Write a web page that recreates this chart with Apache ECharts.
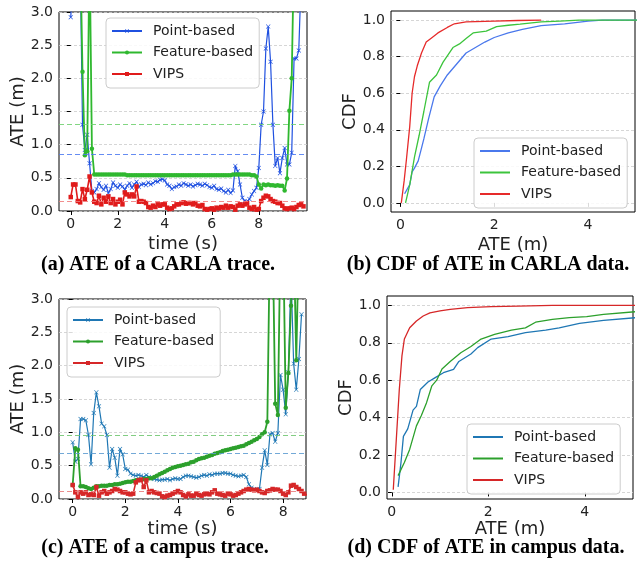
<!DOCTYPE html>
<html><head><meta charset="utf-8">
<script src="https://cdn.jsdelivr.net/npm/echarts@6/dist/echarts.min.js"></script>
<style>html,body{margin:0;padding:0;background:#fff}#c{width:637px;height:573px}</style>
</head><body><div id="c"></div>
<script>
const seriesNames = ['Point-based', 'Feature-based', 'VIPS'];
const captions = ['(a) ATE of a CARLA trace.', '(b) CDF of ATE in CARLA data.', '(c) ATE of a campus trace.', '(d) CDF of ATE in campus data.'];

// tick labels
const xTicksTimeA = [0, 2, 4, 6, 8];
const xTicksTimeC = [0, 2, 4, 6, 8];
const yTicksATE = [0, 0.5, 1, 1.5, 2, 2.5, 3];
const xTicksCDF = [0, 2, 4];
const yTicksCDF = [0, 0.2, 0.4, 0.6, 0.8, 1.0];

// (a) CARLA trace
const timeA = [0,0.1,0.2,0.3,0.4,0.5,0.6,0.7,0.8,0.9,1,1.1,1.2,1.3,1.4,1.5,1.6,1.7,1.8,1.9,2,2.1,2.2,2.3,2.4,2.5,2.6,2.7,2.8,2.9,3,3.1,3.2,3.3,3.4,3.5,3.6,3.7,3.8,3.9,4,4.1,4.2,4.3,4.4,4.5,4.6,4.7,4.8,4.9,5,5.1,5.2,5.3,5.4,5.5,5.6,5.7,5.8,5.9,6,6.1,6.2,6.3,6.4,6.5,6.6,6.7,6.8,6.9,7,7.1,7.2,7.3,7.4,7.5,7.6,7.7,7.8,7.9,8,8.1,8.2,8.3,8.4,8.5,8.6,8.7,8.8,8.9,9,9.1,9.2,9.3,9.4,9.5,9.6,9.7,9.8,9.9];
const pointA = [2.92,3.6,4.0,4.0,3.8,1.30,0.92,1.15,0.72,0.30,
 0.28,0.33,0.42,0.36,0.32,0.38,0.27,0.33,0.43,0.38,
 0.35,0.40,0.37,0.32,0.38,0.42,0.35,0.40,0.44,0.36,
 0.40,0.41,0.39,0.43,0.40,0.42,0.45,0.44,0.47,0.48,
 0.46,0.40,0.38,0.33,0.36,0.37,0.40,0.38,0.42,0.40,
 0.38,0.40,0.37,0.39,0.41,0.40,0.38,0.41,0.39,0.36,
 0.35,0.38,0.33,0.32,0.34,0.30,0.28,0.32,0.27,0.31,
 0.68,0.60,0.40,0.20,0.15,0.14,0.18,0.25,0.30,0.35,
 0.65,1.30,1.50,2.45,2.78,2.25,1.30,0.68,0.80,0.57,
 0.80,0.95,0.70,0.70,0.88,2.30,2.30,2.42,3.50,4.00];
const featureA = [4,4,4,4,4,2.10,0.84,0.90,4,0.94,
 0.55,0.55,0.55,0.55,0.55,0.55,0.55,0.55,0.55,0.55,
 0.55,0.55,0.55,0.55,0.54,0.54,0.54,0.54,0.54,0.54,
 0.54,0.54,0.54,0.54,0.54,0.54,0.54,0.54,0.54,0.54,
 0.54,0.54,0.54,0.54,0.54,0.54,0.54,0.54,0.54,0.54,
 0.54,0.54,0.54,0.54,0.54,0.54,0.54,0.54,0.54,0.54,
 0.54,0.54,0.54,0.54,0.54,0.54,0.54,0.54,0.54,0.55,
 0.55,0.55,0.55,0.55,0.55,0.55,0.55,0.54,0.54,0.52,
 0.40,0.34,0.40,0.39,0.40,0.39,0.39,0.38,0.39,0.38,
 0.38,0.31,0.49,1.51,2.00,4,4,4,4,4];
const vipsA = [0.21,0.40,0.40,0.15,0.13,0.33,0.18,0.32,0.52,0.28,
 0.14,0.12,0.23,0.10,0.20,0.14,0.22,0.12,0.18,0.10,
 0.14,0.17,0.10,0.28,0.25,0.22,0.25,0.22,0.37,0.14,
 0.15,0.14,0.12,0.06,0.05,0.08,0.06,0.10,0.08,0.10,
 0.10,0.05,0.03,0.04,0.07,0.10,0.10,0.12,0.13,0.11,
 0.12,0.12,0.10,0.12,0.08,0.07,0.09,0.03,0.02,0.03,
 0.04,0.02,0.05,0.04,0.06,0.05,0.08,0.05,0.07,0.06,
 0.02,0.08,0.10,0.08,0.10,0.12,0.05,0.03,0.06,0.02,
 0.03,0.15,0.20,0.23,0.22,0.18,0.15,0.14,0.12,0.12,
 0.08,0.04,0.03,0.04,0.05,0.03,0.06,0.09,0.10,0.07];
const meanA = [0.85, 1.31, 0.14];

// (c) campus trace
const timeC = [0,0.1,0.2,0.3,0.4,0.5,0.6,0.7,0.8,0.9,1,1.1,1.2,1.3,1.4,1.5,1.6,1.7,1.8,1.9,2,2.1,2.2,2.3,2.4,2.5,2.6,2.7,2.8,2.9,3,3.1,3.2,3.3,3.4,3.5,3.6,3.7,3.8,3.9,4,4.1,4.2,4.3,4.4,4.5,4.6,4.7,4.8,4.9,5,5.1,5.2,5.3,5.4,5.5,5.6,5.7,5.8,5.9,6,6.1,6.2,6.3,6.4,6.5,6.6,6.7,6.8,6.9,7,7.1,7.2,7.3,7.4,7.5,7.6,7.7,7.8,7.9,8,8.1,8.2,8.3,8.4,8.5,8.6,8.7,8.8,8.9];
const pointC = [0.85,0.56,0.60,1.20,1.20,1.18,0.96,0.52,1.29,1.60,
 1.39,1.13,1.09,0.96,0.47,0.75,0.62,0.35,0.75,0.67,
 0.45,0.44,0.38,0.36,0.35,0.36,0.35,0.33,0.36,0.33,
 0.31,0.30,0.29,0.28,0.29,0.29,0.30,0.28,0.30,0.31,
 0.30,0.30,0.33,0.35,0.35,0.34,0.33,0.32,0.33,0.35,
 0.36,0.35,0.37,0.36,0.38,0.38,0.38,0.39,0.39,0.38,
 0.38,0.36,0.35,0.34,0.35,0.36,0.33,0.22,0.17,0.15,
 0.14,0.15,0.47,0.73,0.51,0.97,0.99,0.86,0.99,1.86,
 1.64,1.27,1.90,3.40,2.03,1.64,2.10,2.77];
const featureC = [0.21,0.76,0.74,0.19,0.19,0.18,0.16,0.15,0.17,0.19,
 0.19,0.20,0.20,0.20,0.21,0.21,0.22,0.22,0.23,0.24,
 0.25,0.26,0.26,0.27,0.28,0.29,0.29,0.30,0.30,0.31,
 0.31,0.33,0.35,0.37,0.39,0.41,0.43,0.45,0.47,0.48,
 0.49,0.50,0.51,0.52,0.53,0.55,0.56,0.58,0.60,0.61,
 0.62,0.635,0.65,0.66,0.68,0.69,0.70,0.72,0.73,0.74,
 0.75,0.76,0.77,0.78,0.79,0.80,0.82,0.84,0.86,0.88,
 0.90,0.93,0.97,1.00,1.16,4,4,1.43,1.26,4,
 4,1.37,1.89,2.90,4,2.08,4];
const vipsC = [0.21,0.10,0.03,0.10,0.08,0.10,0.06,0.07,0.06,0.18,
 0.05,0.10,0.12,0.08,0.10,0.12,0.15,0.14,0.12,0.10,
 0.10,0.08,0.07,0.08,0.25,0.28,0.29,0.18,0.28,0.10,
 0.12,0.10,0.09,0.08,0.04,0.03,0.05,0.06,0.08,0.10,
 0.12,0.10,0.06,0.04,0.07,0.05,0.05,0.08,0.06,0.05,
 0.07,0.08,0.07,0.10,0.13,0.08,0.07,0.06,0.05,0.08,
 0.07,0.05,0.06,0.08,0.10,0.12,0.14,0.15,0.14,0.13,
 0.14,0.12,0.10,0.09,0.12,0.13,0.15,0.14,0.14,0.12,
 0.08,0.06,0.10,0.20,0.21,0.18,0.15,0.12,0.08,0.06];
const meanC = [0.68, 0.95, 0.12];

// (b) CDF CARLA
const cdfBPointX = [0.09,0.2,0.25,0.3,0.38,0.45,0.5,0.6,0.72,0.85,1.0,1.2,1.4,1.6,1.8,2.0,2.3,2.6,3.0,3.5,4.0,4.3,5.2];
const cdfBPointY = [0.05,0.1,0.17,0.19,0.23,0.3,0.35,0.46,0.58,0.64,0.7,0.76,0.82,0.85,0.88,0.905,0.93,0.95,0.97,0.98,0.995,1.0,1.0];
const cdfBFeatX = [0.11,0.2,0.3,0.4,0.5,0.62,0.77,0.91,1.12,1.26,1.4,1.55,1.83,2.05,2.3,2.55,3.0,3.4,3.8,5.2];
const cdfBFeatY = [0.0,0.1,0.25,0.37,0.5,0.66,0.7,0.77,0.85,0.87,0.9,0.93,0.94,0.965,0.972,0.978,0.99,0.995,1.0,1.0];
const cdfBVipsX = [0.02,0.08,0.13,0.2,0.25,0.3,0.36,0.45,0.55,0.65,0.8,1.0,1.15,1.4,2.0,2.5,3.0];
const cdfBVipsY = [0.0,0.12,0.24,0.42,0.6,0.69,0.75,0.82,0.88,0.9,0.93,0.96,0.98,0.99,0.995,0.998,1.0];

// (d) CDF campus
const cdfDPointX = [0.13,0.19,0.24,0.33,0.44,0.51,0.59,0.75,0.9,1.07,1.28,1.39,1.64,1.78,2.06,2.41,2.77,3.19,3.47,3.89,4.39,5.1];
const cdfDPointY = [0.03,0.16,0.30,0.34,0.44,0.46,0.55,0.59,0.614,0.64,0.658,0.70,0.74,0.774,0.82,0.833,0.854,0.868,0.88,0.904,0.92,0.935];
const cdfDFeatX = [0.13,0.26,0.37,0.51,0.61,0.72,0.83,0.93,1.04,1.21,1.43,1.64,1.85,2.13,2.48,2.77,2.98,3.33,3.68,4.04,4.39,5.1];
const cdfDFeatY = [0.09,0.16,0.23,0.356,0.41,0.48,0.57,0.6,0.66,0.70,0.747,0.78,0.82,0.845,0.868,0.88,0.91,0.925,0.934,0.94,0.952,0.967];
const cdfDVipsX = [0.03,0.085,0.155,0.21,0.26,0.37,0.51,0.65,0.79,1.0,1.21,1.57,2.06,2.62,3.33,5.1];
const cdfDVipsY = [0.014,0.25,0.55,0.73,0.82,0.88,0.916,0.943,0.96,0.97,0.979,0.988,0.993,0.996,1.0,1.0];

// styles
const colA = ['#1f50e0', '#2fb82f', '#e01b1b'];
const colB = ['#4a78ec', '#3cc43c', '#e62a2a'];
const colC = ['#1f77b4', '#2ca02c', '#d62728'];
const meanColA = ['#4a78f0', '#6ccf6c', '#f07a7a'];
const meanColC = ['#5a9ad0', '#6cc46c', '#e87a7a'];
const FONT = 'DejaVu Sans';
const xSym = 'path://M0,1L1,0L5,4L9,0L10,1L6,5L10,9L9,10L5,6L1,10L0,9L4,5Z';
const syms = [xSym, 'circle', 'rect'];
const symSizes = [4.5, 4.5, 4.5];
const lineW = [1.2, 1.8, 1.6];

function zip(xs, ys) { return ys.map((v, i) => [xs[i], v]); }
function tag(name, k) { return name + '|' + k; }

const grids = [
  {left: 59, top: 12, width: 248, height: 199},
  {left: 391, top: 11, width: 244, height: 201},
  {left: 59, top: 299, width: 247, height: 200},
  {left: 387, top: 296, width: 246, height: 203}
].map(g => Object.assign({show: true, borderColor: '#000', borderWidth: 1, containLabel: false}, g));

function xAxis(i, min, max, ticks, name, gap) {
  return {
    gridIndex: i, type: 'value', min: min, max: max,
    axisLine: {show: false},
    axisTick: {show: true, length: 4, customValues: ticks, lineStyle: {color: '#000', width: 1}},
    axisLabel: {customValues: ticks, fontSize: 14, color: '#222', margin: 6, fontFamily: FONT},
    splitLine: {show: false},
    name: name, nameLocation: 'middle', nameGap: gap,
    nameTextStyle: {fontSize: 18, color: '#222', fontFamily: FONT}
  };
}
function yAxis(i, min, max, ticks, name, gap) {
  return {
    gridIndex: i, type: 'value', min: min, max: max,
    axisLine: {show: false},
    axisTick: {show: true, length: 4, customValues: ticks, lineStyle: {color: '#000', width: 1}},
    axisLabel: {customValues: ticks, fontSize: 14, color: '#222', margin: 6, fontFamily: FONT, formatter: v => Number(v).toFixed(1)},
    splitLine: {show: true, lineStyle: {color: '#cccccc', type: [3, 2], width: 0.8}},
    name: name, nameLocation: 'middle', nameGap: gap, nameRotate: 90,
    nameTextStyle: {fontSize: 18, color: '#222', fontFamily: FONT}
  };
}

const series = [];
function traceSeries(k, gi, times, arrs, cols, means, meanCols) {
  arrs.forEach((arr, j) => {
    series.push({
      name: tag(seriesNames[j], k), type: 'line', xAxisIndex: gi, yAxisIndex: gi,
      data: zip(times, arr), clip: true,
      symbol: syms[j], symbolSize: symSizes[j], showSymbol: true, showAllSymbol: true,
      lineStyle: {width: lineW[j], color: cols[j]}, itemStyle: {color: cols[j]},
      z: 2 + j,
      markLine: {silent: true, symbol: ['none', 'none'], label: {show: false}, animation: false,
        lineStyle: {type: [5, 3], width: 1.2, color: meanCols[j], opacity: 0.85},
        data: [{yAxis: means[j]}]}
    });
  });
}
function cdfSeries(k, gi, pairs, cols) {
  pairs.forEach((p, j) => {
    series.push({
      name: tag(seriesNames[j], k), type: 'line', xAxisIndex: gi, yAxisIndex: gi,
      data: zip(p[0], p[1]), clip: true, symbol: 'none', showSymbol: false,
      lineStyle: {width: 1.3, color: cols[j]}, itemStyle: {color: cols[j]}, z: 2 + j
    });
  });
}
traceSeries('a', 0, timeA, [pointA, featureA, vipsA], colA, meanA, meanColA);
cdfSeries('b', 1, [[cdfBPointX, cdfBPointY], [cdfBFeatX, cdfBFeatY], [cdfBVipsX, cdfBVipsY]], colB);
traceSeries('c', 2, timeC, [pointC, featureC, vipsC], colC, meanC, meanColC);
cdfSeries('d', 3, [[cdfDPointX, cdfDPointY], [cdfDFeatX, cdfDFeatY], [cdfDVipsX, cdfDVipsY]], colC);

function legend(k, left, top, lineOnly) {
  const l = {
    data: seriesNames.map(n => {
      const d = {name: tag(n, k)};
      if (lineOnly) d.itemStyle = {opacity: 0};
      return d;
    }),
    left: left, top: top, orient: 'vertical',
    itemWidth: 30, itemHeight: 5, itemGap: 7.5,
    padding: [6, 6, 7, 5],
    borderColor: '#cccccc', borderWidth: 1, borderRadius: 4,
    backgroundColor: 'rgba(255,255,255,0.85)',
    selectedMode: false,
    formatter: n => n.split('|')[0],
    textStyle: {fontFamily: FONT, fontSize: 14, color: '#222', padding: [0, 0, 0, 6], lineHeight: 14}
  };
  return l;
}

const captionPos = [[158, 265], [488, 265], [155, 548], [486, 548]];
const graphics = captions.map((t, i) => ({
  type: 'text', x: captionPos[i][0], y: captionPos[i][1], silent: true,
  style: {text: t, font: 'bold 20px "Liberation Serif"', fill: '#000', textAlign: 'center', textVerticalAlign: 'middle'}
}));

const chart = echarts.init(document.getElementById('c'), null, {renderer: 'canvas'});
chart.setOption({
  animation: false,
  backgroundColor: '#fff',
  textStyle: {fontFamily: FONT},
  grid: grids,
  xAxis: [
    xAxis(0, -0.5, 10.05, xTicksTimeA, 'time (s)', 24),
    xAxis(1, -0.2, 5, xTicksCDF, 'ATE (m)', 24),
    xAxis(2, -0.52, 8.87, xTicksTimeC, 'time (s)', 19),
    xAxis(3, -0.1, 5, xTicksCDF, 'ATE (m)', 19)
  ],
  yAxis: [
    yAxis(0, 0, 3, yTicksATE, 'ATE (m)', 31),
    yAxis(1, -0.05, 1.05, yTicksCDF, 'CDF', 32),
    yAxis(2, 0, 3, yTicksATE, 'ATE (m)', 31),
    yAxis(3, -0.035, 1.05, yTicksCDF, 'CDF', 32)
  ],
  legend: [
    legend('a', 106, 18, false),
    legend('b', 474, 138, true),
    legend('c', 67, 307, false),
    legend('d', 467, 424, true)
  ],
  series: series,
  graphic: graphics
});
</script></body></html>
